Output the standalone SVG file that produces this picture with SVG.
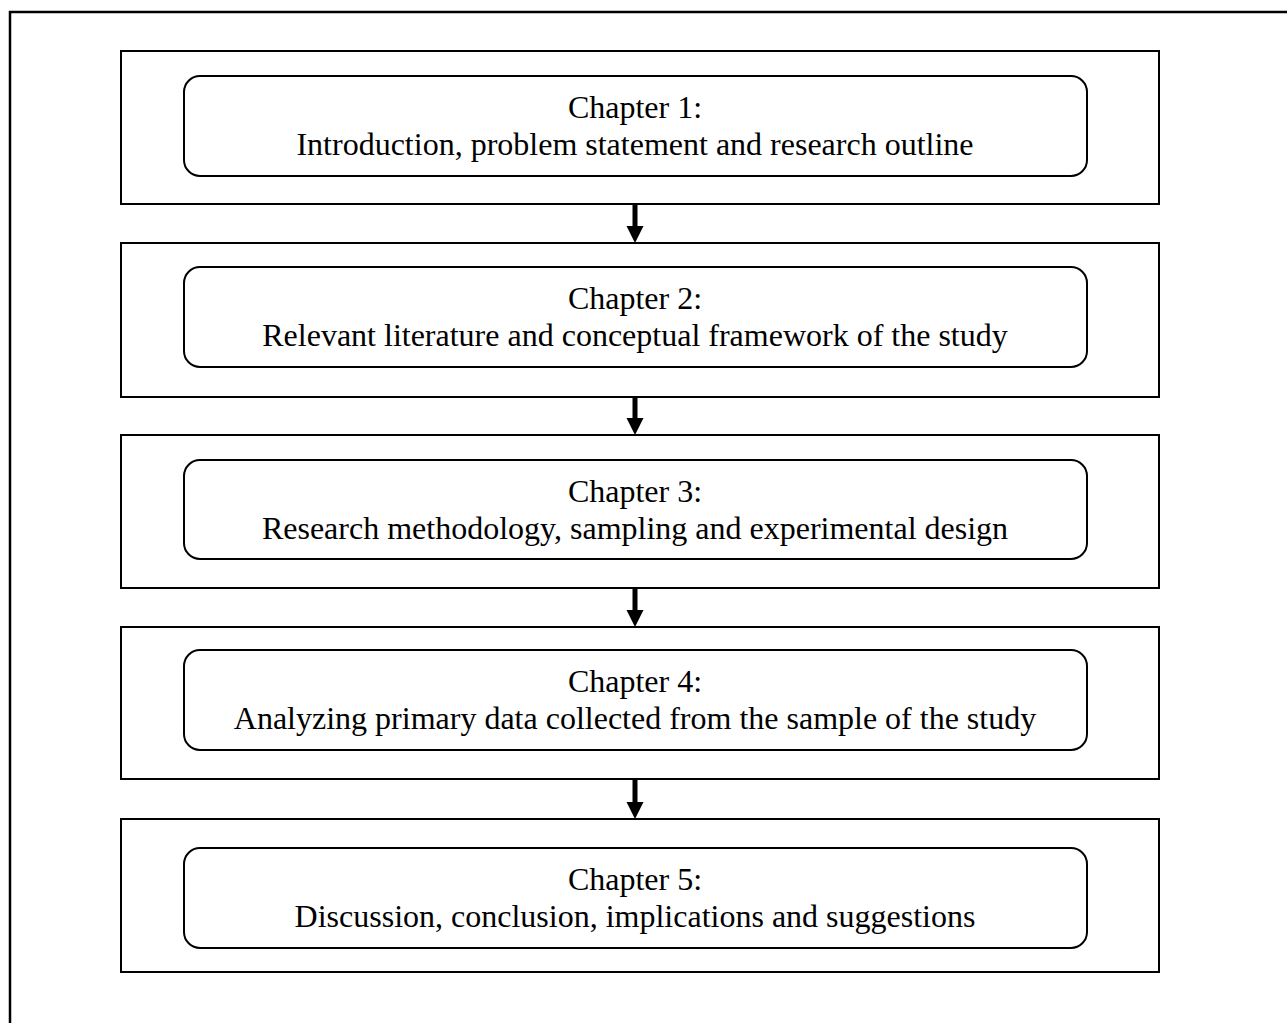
<svg xmlns="http://www.w3.org/2000/svg" width="1287" height="1023" viewBox="0 0 1287 1023">
  <style>
    .frame { fill: #ffffff; stroke: #000000; stroke-width: 2; }
    .card { fill: #ffffff; stroke: #000000; stroke-width: 2; }
    .label { font-family: "Liberation Serif", "Times New Roman", serif; font-size: 32px; fill: #000000; text-anchor: middle; }
    .shaft { stroke: #000000; stroke-width: 5; fill: none; }
    .head { fill: #000000; stroke: none; }
  </style>
  <rect x="0" y="0" width="1287" height="1023" fill="#ffffff"/>
  <!-- page edge -->
  <polyline points="10,1023 10,12 1287,12" fill="none" stroke="#000000" stroke-width="2.5"/>

  <g id="chapter1">
    <rect class="frame" x="121" y="51" width="1038" height="153"/>
    <rect class="card" x="184" y="76" width="903" height="100" rx="16" ry="16"/>
    <text class="label" x="635" y="118">Chapter 1:</text>
    <text class="label" x="635" y="155">Introduction, problem statement and research outline</text>
  </g>
  <g id="chapter2">
    <rect class="frame" x="121" y="243" width="1038" height="154"/>
    <rect class="card" x="184" y="267" width="903" height="100" rx="16" ry="16"/>
    <text class="label" x="635" y="309">Chapter 2:</text>
    <text class="label" x="635" y="346">Relevant literature and conceptual framework of the study</text>
  </g>
  <g id="chapter3">
    <rect class="frame" x="121" y="435" width="1038" height="153"/>
    <rect class="card" x="184" y="460" width="903" height="99" rx="16" ry="16"/>
    <text class="label" x="635" y="502">Chapter 3:</text>
    <text class="label" x="635" y="539">Research methodology, sampling and experimental design</text>
  </g>
  <g id="chapter4">
    <rect class="frame" x="121" y="627" width="1038" height="152"/>
    <rect class="card" x="184" y="650" width="903" height="100" rx="16" ry="16"/>
    <text class="label" x="635" y="692">Chapter 4:</text>
    <text class="label" x="635" y="729">Analyzing primary data collected from the sample of the study</text>
  </g>
  <g id="chapter5">
    <rect class="frame" x="121" y="819" width="1038" height="153"/>
    <rect class="card" x="184" y="848" width="903" height="100" rx="16" ry="16"/>
    <text class="label" x="635" y="890">Chapter 5:</text>
    <text class="label" x="635" y="927">Discussion, conclusion, implications and suggestions</text>
  </g>

  <g id="connectors">
    <line class="shaft" x1="635" y1="205" x2="635" y2="228"/>
    <polygon class="head" points="626.5,226 643.5,226 635,243"/>
    <line class="shaft" x1="635" y1="398" x2="635" y2="420"/>
    <polygon class="head" points="626.5,418 643.5,418 635,435"/>
    <line class="shaft" x1="635" y1="589" x2="635" y2="612"/>
    <polygon class="head" points="626.5,610 643.5,610 635,627"/>
    <line class="shaft" x1="635" y1="780" x2="635" y2="804"/>
    <polygon class="head" points="626.5,802 643.5,802 635,819"/>
  </g>
</svg>
